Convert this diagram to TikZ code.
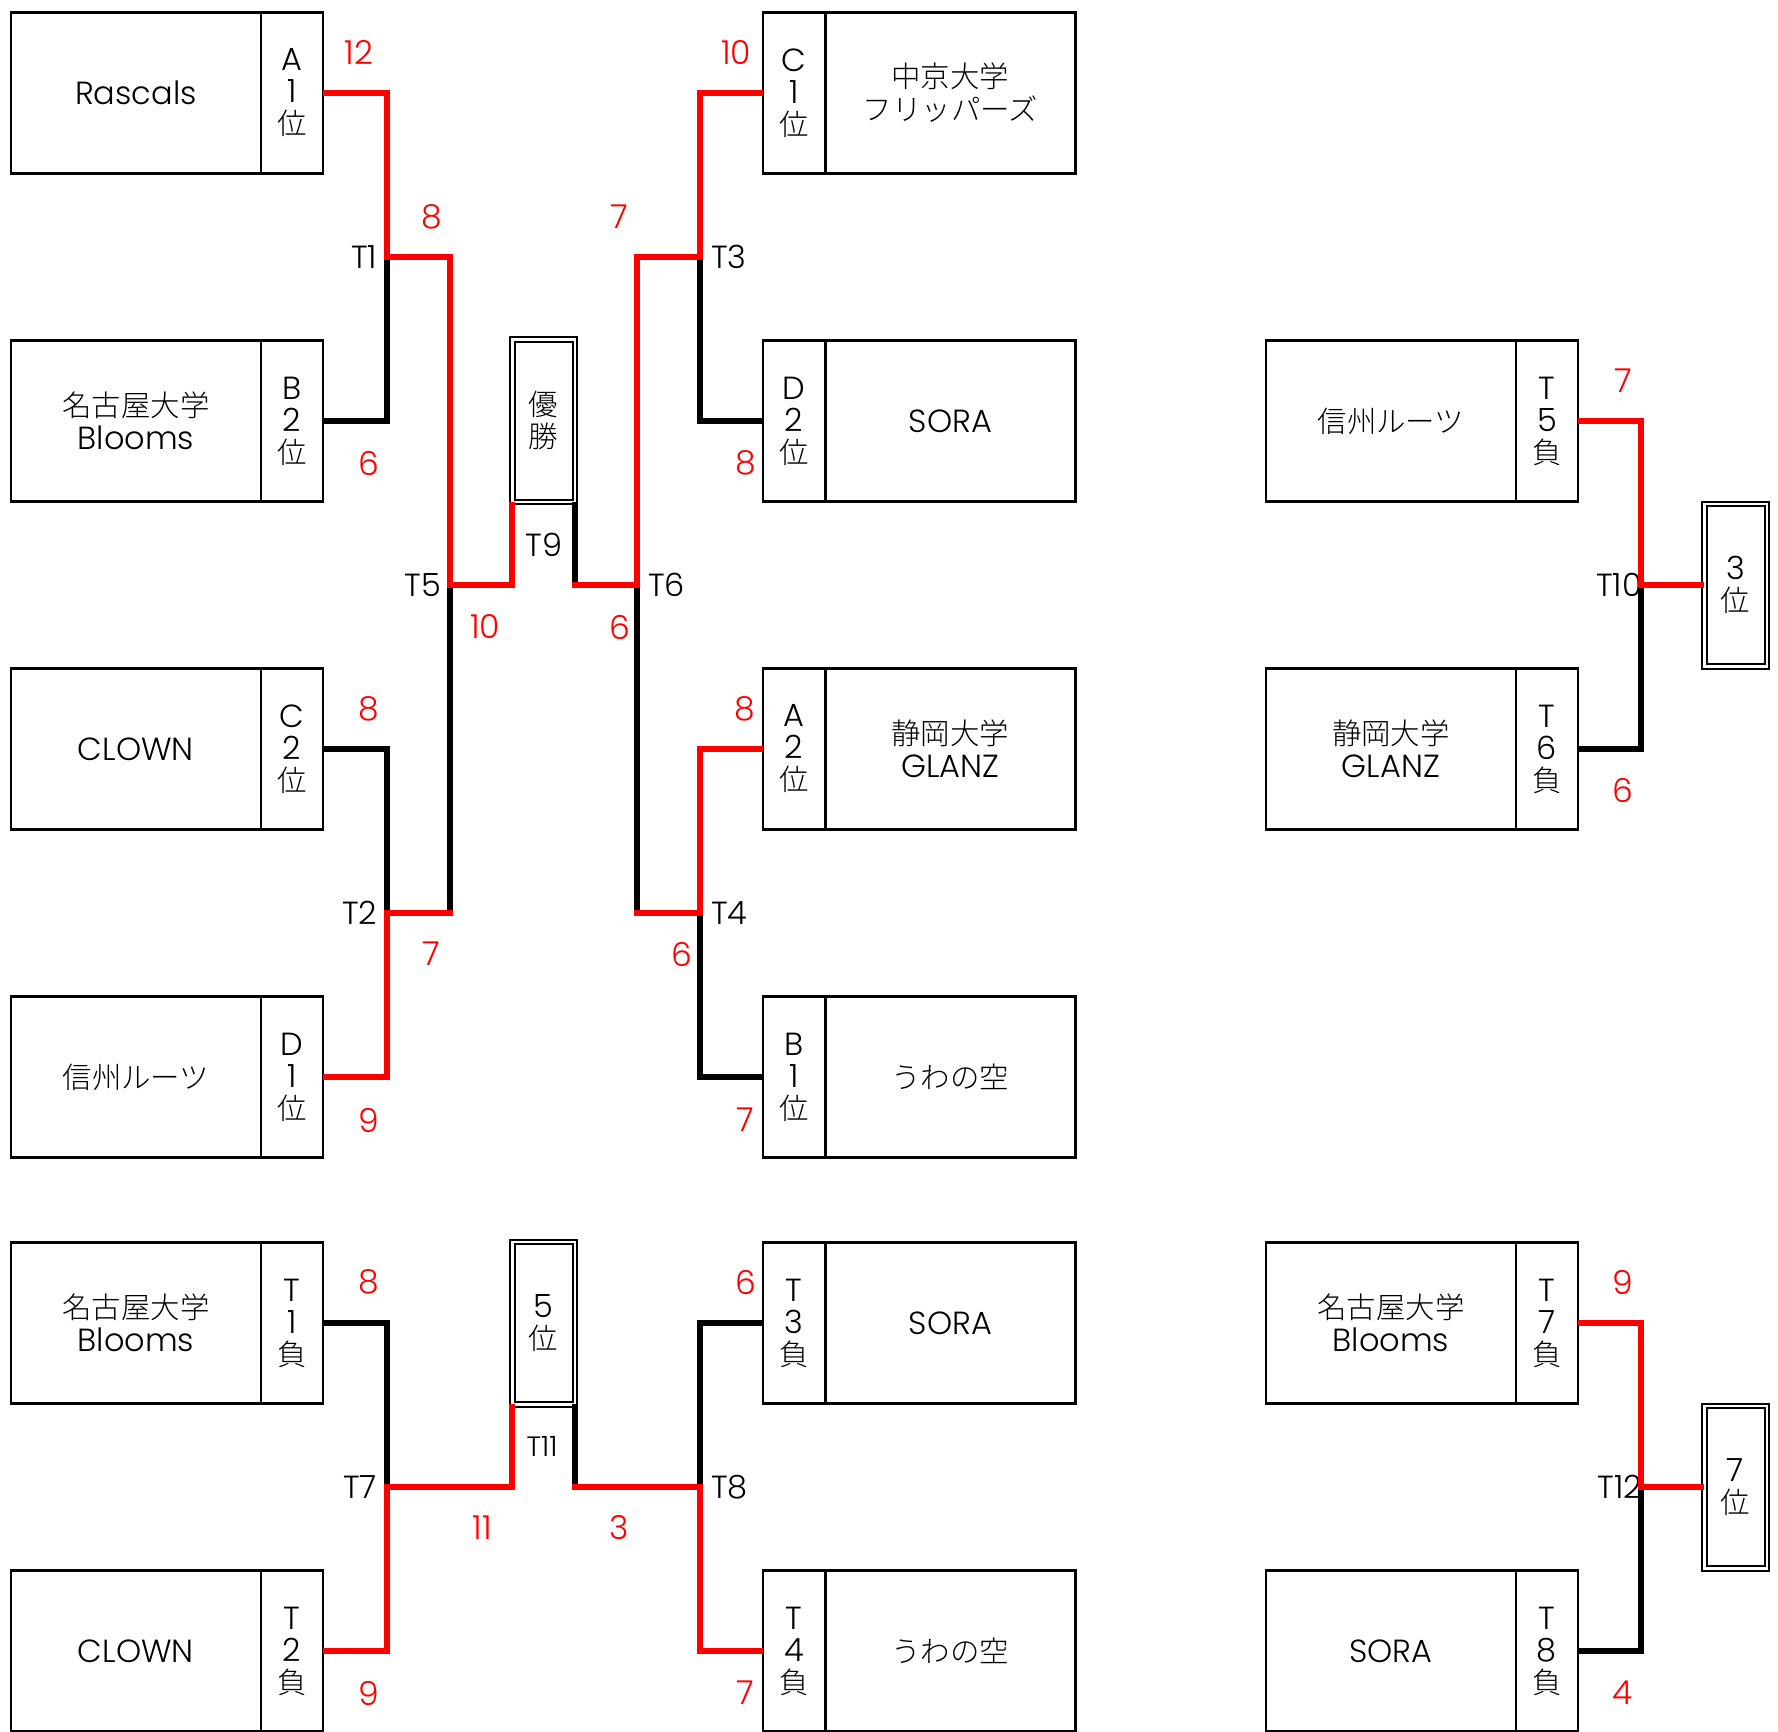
\documentclass[tikz,border=0pt]{standalone}
\usepackage{fontspec}
\IfFontExistsTF{Poppins Light}{\setmainfont{Poppins Light}[Numbers=Monospaced]}{\setmainfont{Poppins}[Numbers=Monospaced]}
\IfFontExistsTF{Noto Sans CJK JP Light}{\newfontfamily\jp{Noto Sans CJK JP Light}[Scale=0.92]}{\newfontfamily\jp{Noto Sans CJK JP}[Scale=0.92]}
\newcommand\J[1]{{\jp #1}}
\begin{document}
\begin{tikzpicture}[x=1pt,y=-1pt,
  every node/.style={inner sep=0pt, outer sep=0pt, text=black},
  namecell/.style={draw, line width=2.5pt, minimum width=250.3pt, minimum height=161pt, align=center, font=\fontsize{32}{33}\selectfont},
  tagcell/.style={draw, line width=2.5pt, minimum width=61.75pt, minimum height=161pt, align=center, font=\fontsize{32}{32}\selectfont},
  rankbox/.style={draw, double, line width=2pt, double distance=2.5pt, minimum width=62.5pt, minimum height=162.5pt, align=center, font=\fontsize{32}{32}\selectfont},
  win/.style={draw=red, line width=6pt, line join=miter},
  lose/.style={draw=black, line width=6pt, line join=miter},
  score/.style={text=red, font=\fontsize{33}{33}\selectfont},
  mlabel/.style={font=\fontsize{32}{32}\selectfont},
  smalllabel/.style={font=\fontsize{28}{28}\selectfont}
]
\fill[white] (0,0) rectangle (1778,1732);
\useasboundingbox (0,0) rectangle (1778,1732);

% ---- left column boxes (top) ----
\node[namecell] (rascals) at (135.9,93) {Rascals};
\node[tagcell]  (a1) at (291.9,93) {A\\1\\\J{位}};
\node[namecell] (nagoya) at (135.9,421) {\J{名古屋大学}\\Blooms};
\node[tagcell]  (b2) at (291.9,421) {B\\2\\\J{位}};
\node[namecell] (clown) at (135.9,749) {CLOWN};
\node[tagcell]  (c2) at (291.9,749) {C\\2\\\J{位}};
\node[namecell] (shinshu) at (135.9,1077) {\J{信州ルーツ}};
\node[tagcell]  (d1) at (291.9,1077) {D\\1\\\J{位}};

% ---- middle column boxes (top) ----
\node[tagcell]  (c1) at (794.1,93) {C\\1\\\J{位}};
\node[namecell] (chukyo) at (950.4,93) {\J{中京大学}\\\J{フリッパーズ}};
\node[tagcell]  (d2) at (794.1,421) {D\\2\\\J{位}};
\node[namecell] (sora) at (950.4,421) {SORA};
\node[tagcell]  (a2) at (794.1,749) {A\\2\\\J{位}};
\node[namecell] (shizuoka) at (950.4,749) {\J{静岡大学}\\GLANZ};
\node[tagcell]  (b1) at (794.1,1077) {B\\1\\\J{位}};
\node[namecell] (uwa) at (950.4,1077) {\J{うわの空}};

% ---- bottom boxes ----
\node[namecell] (nagoyaB) at (135.9,1323) {\J{名古屋大学}\\Blooms};
\node[tagcell]  (t1l) at (291.9,1323) {T\\1\\\J{負}};
\node[namecell] (clownB) at (135.9,1651) {CLOWN};
\node[tagcell]  (t2l) at (291.9,1651) {T\\2\\\J{負}};
\node[tagcell]  (t3l) at (794.1,1323) {T\\3\\\J{負}};
\node[namecell] (soraB) at (950.4,1323) {SORA};
\node[tagcell]  (t4l) at (794.1,1651) {T\\4\\\J{負}};
\node[namecell] (uwaB) at (950.4,1651) {\J{うわの空}};

% ---- right column boxes ----
\node[namecell] (shinshuR) at (1390.9,421) {\J{信州ルーツ}};
\node[tagcell]  (t5l) at (1546.9,421) {T\\5\\\J{負}};
\node[namecell] (shizuokaR) at (1390.9,749) {\J{静岡大学}\\GLANZ};
\node[tagcell]  (t6l) at (1546.9,749) {T\\6\\\J{負}};
\node[namecell] (nagoyaR) at (1390.9,1323) {\J{名古屋大学}\\Blooms};
\node[tagcell]  (t7l) at (1546.9,1323) {T\\7\\\J{負}};
\node[namecell] (soraR) at (1390.9,1651) {SORA};
\node[tagcell]  (t8l) at (1546.9,1651) {T\\8\\\J{負}};

% ---- ranking boxes ----
\node[rankbox] (yusho) at (543.5,420.5) {\J{優}\\\J{勝}};
\node[rankbox] (go) at (543.5,1323) {5\\\J{位}};
\node[rankbox] (san) at (1735.5,585) {3\\\J{位}};
\node[rankbox] (nana) at (1735.5,1487) {7\\\J{位}};

% ---- junctions ----
\coordinate (t1) at (386.5,257);
\coordinate (t1w) at (449.5,257);
\coordinate (t2) at (386.5,913);
\coordinate (t2w) at (449.5,913);
\coordinate (t5) at (449.5,585);
\coordinate (t3) at (700,257);
\coordinate (t3w) at (636.5,257);
\coordinate (t4) at (700,913);
\coordinate (t4w) at (636.5,913);
\coordinate (t6) at (636.5,585);
\coordinate (t10) at (1640.5,585);
\coordinate (t7) at (386.5,1487);
\coordinate (t8) at (700,1487);
\coordinate (t12) at (1640.5,1487);

% ---- match labels ----
\node[mlabel, anchor=east] (lt1) at (377,257) {T1};
\node[mlabel, anchor=east] (lt2) at (377,913) {T2};
\node[mlabel, anchor=east] (lt5) at (441,585) {T5};
\node[mlabel, anchor=east] (lt7) at (377,1487) {T7};
\node[mlabel, anchor=west] (lt3) at (711,257) {T3};
\node[mlabel, anchor=west] (lt4) at (711,913) {T4};
\node[mlabel, anchor=west] (lt6) at (648,585) {T6};
\node[mlabel, anchor=west] (lt8) at (711,1487) {T8};
\node[mlabel] (lt9) at (544,544.5) {T9};
\node[mlabel, anchor=east] (lt10) at (1642,585) {T10};
\node[mlabel, anchor=east] (lt12) at (1642,1487) {T12};
\node[smalllabel] (lt11) at (542,1446) {T11};

% ---- losing lines ----
\draw[lose] (b2.east) -| (t1);
\draw[lose] (c2.east) -| (t2);
\draw[lose] (t2w) -- (t5);
\draw[lose] (d2.west) -| (t3);
\draw[lose] (b1.west) -| (t4);
\draw[lose] (t4w) -- (t6);
\draw[lose] (t6 -| yusho.south east) -- (yusho.south east);
\draw[lose] (t6l.east) -| (t10);
\draw[lose] (t1l.east) -| (t7);
\draw[lose] (t3l.west) -| (t8);
\draw[lose] (t8 -| go.south east) -- (go.south east);
\draw[lose] (t8l.east) -| (t12);

% ---- winning lines ----
\draw[win] (a1.east) -| (t1) -- (t1w) -- (t5) -| (yusho.south west);
\draw[win] (d1.east) -| (t2) -- ([xshift=3pt]t2w);
\draw[win] (c1.west) -| (t3) -- (t3w) -- (t6) -- ([xshift=-3pt]t6 -| yusho.south east);
\draw[win] (a2.west) -| (t4) -- ([xshift=-3pt]t4w);
\draw[win] (t5l.east) -| (t10) -- (san.west);
\draw[win] (t2l.east) -| (t7) -| (go.south west);
\draw[win] (t4l.west) -| (t8) -- ([xshift=-3pt]t8 -| go.south east);
\draw[win] (t7l.east) -| (t12) -- (nana.west);

% ---- scores ----
\node[score] (s1) at (359,52.5) {12};
\node[score] (s2) at (368.5,463) {6};
\node[score] (s3) at (431.5,216.5) {8};
\node[score] (s4) at (485,627) {10};
\node[score] (s5) at (368.5,709) {8};
\node[score] (s6) at (431,954) {7};
\node[score] (s7) at (368.5,1120) {9};
\node[score] (s8) at (736,52.5) {10};
\node[score] (s9) at (619.5,216.5) {7};
\node[score] (s10) at (745.5,463) {8};
\node[score] (s11) at (619.5,627) {6};
\node[score] (s12) at (745,709) {8};
\node[score] (s13) at (682,954) {6};
\node[score] (s14) at (745.5,1120) {7};
\node[score] (s15) at (368.5,1282) {8};
\node[score] (s16) at (368.5,1693) {9};
\node[score] (s17) at (482,1528) {11};
\node[score] (s18) at (619.5,1528) {3};
\node[score] (s19) at (745.5,1282) {6};
\node[score] (s20) at (745.5,1693) {7};
\node[score] (s21) at (1623,380.5) {7};
\node[score] (s22) at (1623,790.5) {6};
\node[score] (s23) at (1623,1282) {9};
\node[score] (s24) at (1623,1693) {4};
\end{tikzpicture}
\end{document}
